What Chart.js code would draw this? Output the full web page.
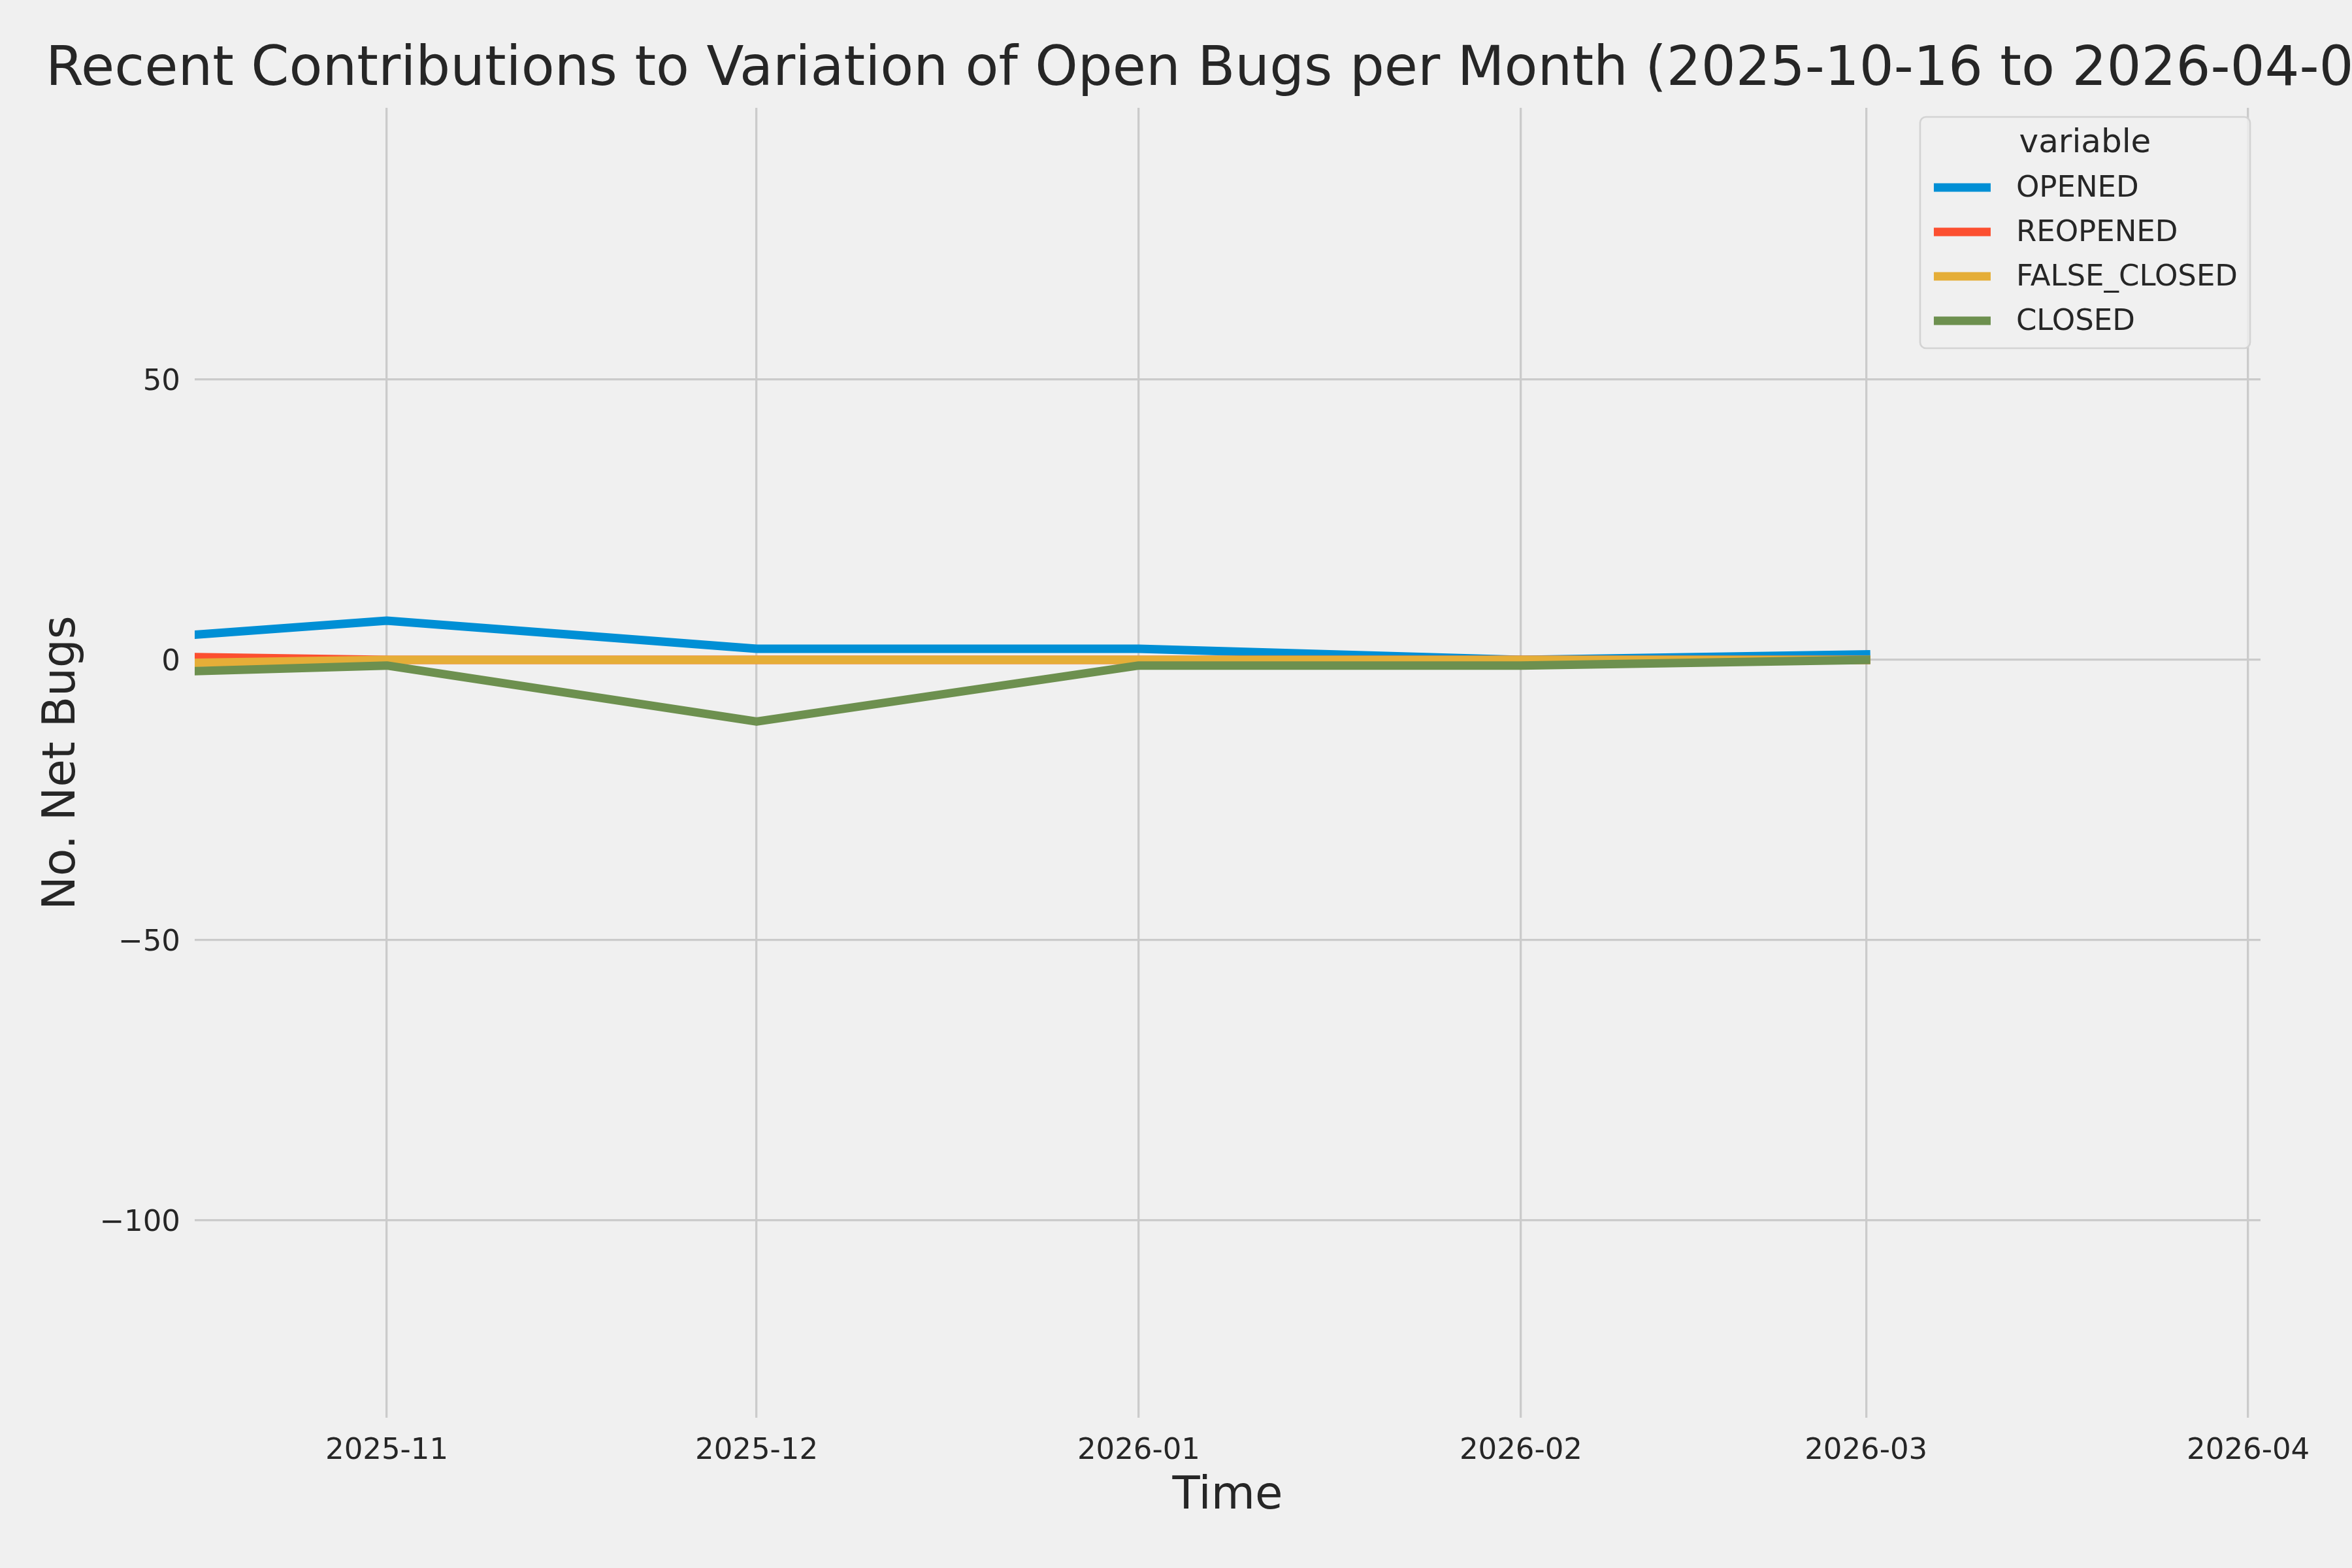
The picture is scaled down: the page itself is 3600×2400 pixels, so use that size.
<!DOCTYPE html>
<html>
<head>
<meta charset="utf-8">
<script src="https://cdn.jsdelivr.net/npm/chart.js@4.4.1/dist/chart.umd.min.js"></script>
<style>
    html, body { margin: 0; padding: 0; background: #f0f0f0; }
    #wrap { width: 3600px; height: 2400px; }
</style>
</head>
<body>
<div id="wrap"><canvas id="bugChart" width="3600" height="2400"></canvas></div>
<script>
// data (monthly net contributions)
const months = ['2025-10-01', '2025-11-01', '2025-12-01', '2026-01-01', '2026-02-01', '2026-03-01'];
const seriesNames = ['OPENED', 'REOPENED', 'FALSE_CLOSED', 'CLOSED'];
const opened = [2, 7, 2, 2, 0, 1];
const reopened = [1, 0, 0, 0, 0, 0];
const falseClosed = [-1, 0, 0, 0, 0, 0];
const closed = [-3, -1, -11, -1, -1, 0];
const xTickLabels = ['2025-11', '2025-12', '2026-01', '2026-02', '2026-03', '2026-04'];
const yTicks = [-100, -50, 0, 50];
const xStart = '2025-10-16T10:00:00Z';
const xEnd = '2026-04-02T00:00:00Z';
const yMin = -135.2;
const yMax = 98.5;
const titleText = 'Recent Contributions to Variation of Open Bugs per Month (2025-10-16 to 2026-04-02)';

const colors = ['#008fd5', '#fc4f30', '#e5ae38', '#6d904f'];
const textColor = '#262626';
const gridColor = '#cbcbcb';
const fontFamily = '"DejaVu Sans", sans-serif';

function toDay(s) {
    if (s.length === 7) s += '-01';
    if (s.length === 10) s += 'T00:00:00Z';
    return Date.parse(s) / 86400000;
}

const values = [opened, reopened, falseClosed, closed];
const datasets = seriesNames.map((name, i) => ({
    label: name,
    data: months.map((m, j) => ({ x: toDay(m), y: values[i][j] })),
    borderColor: colors[i],
    backgroundColor: colors[i],
    borderWidth: 13,
    borderCapStyle: 'square',
    borderJoinStyle: 'round',
    pointRadius: 0,
    tension: 0,
    fill: false,
    clip: 0,
    order: seriesNames.length - 1 - i
}));

const backgroundPlugin = {
    id: 'figBackground',
    beforeDraw(chart) {
        const ctx = chart.ctx;
        ctx.save();
        ctx.fillStyle = '#f0f0f0';
        ctx.fillRect(0, 0, chart.width, chart.height);
        ctx.restore();
    }
};

// matplotlib-style title: centred on the axes, allowed to run off the figure
const titlePlugin = {
    id: 'axesTitle',
    afterDraw(chart) {
        const ctx = chart.ctx;
        const area = chart.chartArea;
        ctx.save();
        ctx.font = '83.3px ' + fontFamily;
        ctx.fillStyle = textColor;
        ctx.textAlign = 'center';
        ctx.textBaseline = 'alphabetic';
        ctx.fillText(titleText, (area.left + area.right) / 2, area.top - 35);
        ctx.restore();
    }
};

const legendPlugin = {
    id: 'insideLegend',
    afterDraw(chart) {
        const ctx = chart.ctx;
        const area = chart.chartArea;
        const sets = chart.data.datasets;
        ctx.save();
        ctx.font = '45px ' + fontFamily;
        let maxW = 0;
        sets.forEach(d => { maxW = Math.max(maxW, ctx.measureText(d.label).width); });
        const handleLen = 87, padL = 21, gap = 39, padR = 19;
        const w = padL + handleLen + gap + maxW + padR;
        const right = area.right - 16;
        const left = right - w;
        const top = area.top + 14;
        const rowH = 68;
        const firstRow = top + 108;
        const h = 108 + rowH * (sets.length - 1) + 42;

        ctx.beginPath();
        ctx.roundRect(left, top, w, h, 9);
        ctx.fillStyle = 'rgba(240,240,240,0.8)';
        ctx.fill();
        ctx.lineWidth = 2.7;
        ctx.strokeStyle = '#d3d3d3';
        ctx.stroke();

        ctx.fillStyle = textColor;
        ctx.textBaseline = 'middle';
        ctx.textAlign = 'center';
        ctx.font = '50px ' + fontFamily;
        ctx.fillText('variable', left + w / 2, top + 41);

        ctx.font = '45px ' + fontFamily;
        ctx.textAlign = 'left';
        sets.forEach((d, i) => {
            const y = firstRow + i * rowH;
            ctx.beginPath();
            ctx.moveTo(left + padL, y);
            ctx.lineTo(left + padL + handleLen, y);
            ctx.lineWidth = d.borderWidth;
            ctx.lineCap = 'butt';
            ctx.strokeStyle = d.borderColor;
            ctx.stroke();
            ctx.fillStyle = textColor;
            ctx.fillText(d.label, left + padL + handleLen + gap, y + 2);
        });
        ctx.restore();
    }
};

new Chart(document.getElementById('bugChart'), {
    type: 'line',
    data: { datasets: datasets },
    plugins: [backgroundPlugin, titlePlugin, legendPlugin],
    options: {
        responsive: false,
        devicePixelRatio: 1,
        animation: false,
        layout: { padding: { top: 165, right: 140, left: 0, bottom: 0 } },
        plugins: {
            legend: { display: false },
            title: { display: false },
            tooltip: { enabled: false }
        },
        scales: {
            x: {
                type: 'linear',
                min: toDay(xStart),
                max: toDay(xEnd),
                afterBuildTicks: scale => {
                    scale.ticks = xTickLabels.map(l => ({ value: toDay(l) }));
                },
                afterFit: scale => {
                    scale.height = 230;
                    scale.paddingLeft = 0;
                    scale.paddingRight = 0;
                },
                ticks: {
                    autoSkip: false,
                    maxRotation: 0,
                    padding: 24,
                    color: textColor,
                    font: { family: fontFamily, size: 45 },
                    callback: value => {
                        const hit = xTickLabels.find(l => Math.abs(toDay(l) - value) < 0.01);
                        return hit || '';
                    }
                },
                grid: { color: gridColor, lineWidth: 3.3, drawTicks: false },
                border: { display: false },
                title: {
                    display: true,
                    text: 'Time',
                    color: textColor,
                    font: { family: fontFamily, size: 69 },
                    padding: { top: 0, bottom: 68 }
                }
            },
            y: {
                min: yMin,
                max: yMax,
                afterBuildTicks: scale => {
                    scale.ticks = yTicks.map(v => ({ value: v }));
                },
                afterFit: scale => {
                    scale.width = 298;
                    scale.paddingTop = 0;
                    scale.paddingBottom = 0;
                },
                ticks: {
                    padding: 22,
                    labelOffset: 4,
                    color: textColor,
                    font: { family: fontFamily, size: 45 },
                    callback: value => String(value).replace('-', '\u2212')
                },
                grid: { color: gridColor, lineWidth: 3.3, drawTicks: false },
                border: { display: false },
                title: {
                    display: true,
                    text: 'No. Net Bugs',
                    color: textColor,
                    font: { family: fontFamily, size: 69 },
                    padding: { top: 55, bottom: 0 }
                }
            }
        }
    }
});
</script>
</body>
</html>
